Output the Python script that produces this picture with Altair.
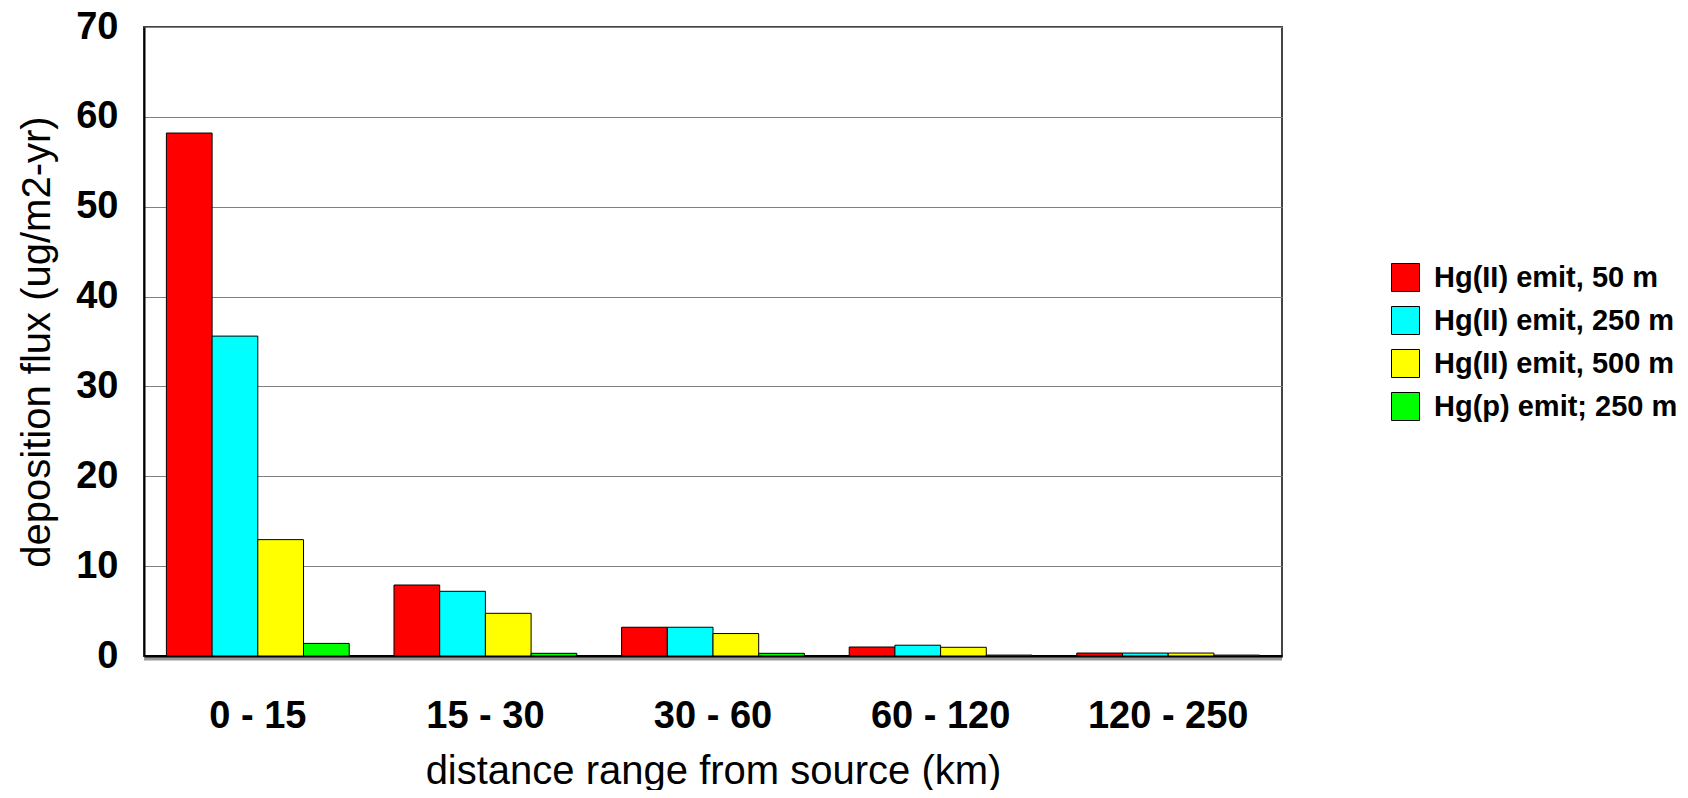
import altair as alt
import pandas as pd

categories = ["0 - 15", "15 - 30", "30 - 60", "60 - 120", "120 - 250"]
series = ["Hg(II) emit, 50 m", "Hg(II) emit, 250 m", "Hg(II) emit, 500 m", "Hg(p) emit; 250 m"]
colors = ["#FF0000", "#00FFFF", "#FFFF00", "#00FF00"]
red_vals = [58.2, 7.9, 3.2, 1.0, 0.33]
cyan_vals = [35.6, 7.2, 3.2, 1.2, 0.33]
yellow_vals = [12.95, 4.75, 2.5, 0.97, 0.33]
green_vals = [1.4, 0.3, 0.3, 0.1, 0.1]

rows = []
for s, vals in zip(series, [red_vals, cyan_vals, yellow_vals, green_vals]):
    for c, v in zip(categories, vals):
        rows.append({"range": c, "series": s, "value": v})
df = pd.DataFrame(rows)

FONT = "Liberation Sans"

bars = alt.Chart(df).mark_bar(stroke="black", strokeWidth=1).encode(
    x=alt.X("range:N", sort=categories,
            scale=alt.Scale(paddingInner=0, paddingOuter=0),
            axis=alt.Axis(title="distance range from source (km)", labelAngle=0,
                          labelFont=FONT, labelFontSize=38, labelFontWeight="bold",
                          labelColor="black", labelPadding=41, ticks=False,
                          domain=True, domainColor="black", domainWidth=3,
                          titleFont=FONT, titleFontSize=40, titleFontWeight="normal",
                          titleColor="black", titlePadding=16, grid=False)),
    xOffset=alt.XOffset("series:N", sort=series,
                        scale=alt.Scale(paddingInner=0, paddingOuter=0.49)),
    y=alt.Y("value:Q",
            scale=alt.Scale(domain=[0, 70], nice=False),
            axis=alt.Axis(title="deposition flux (ug/m2-yr)", values=[0, 10, 20, 30, 40, 50, 60, 70],
                          labelFont=FONT, labelFontSize=38, labelFontWeight="bold",
                          labelColor="black", labelPadding=26, ticks=False,
                          domain=True, domainColor="black", domainWidth=2,
                          grid=True, gridColor="#808080", gridWidth=1.2,
                          titleFont=FONT, titleFontSize=40, titleFontWeight="normal",
                          titleColor="black", titlePadding=18)),
    color=alt.Color("series:N", sort=series,
                    scale=alt.Scale(domain=series, range=colors),
                    legend=alt.Legend(title=None, orient="none", legendX=1247, legendY=236,
                                      symbolType="square", symbolSize=784,
                                      symbolStrokeColor="black", symbolStrokeWidth=1,
                                      symbolOpacity=1,
                                      labelFont=FONT, labelFontSize=29, labelFontWeight="bold",
                                      labelColor="black", labelOffset=14, rowPadding=10,
                                      padding=0, labelLimit=400)),
)

shadow = alt.Chart(pd.DataFrame({"v": [0]})).mark_rule(color="#9a9a9a", strokeWidth=3).encode(
    y=alt.Y("v:Q"), yOffset=alt.value(3)
)

chart = alt.layer(shadow, bars).properties(
    width=1138, height=629,
    autosize=alt.AutoSizeParams(type="none"),
    padding={"left": 136, "top": 19, "right": 398, "bottom": 134},
).configure_view(stroke="#444444", strokeWidth=2)

chart.save("out.html", embed_options={"renderer": "svg", "actions": False})
